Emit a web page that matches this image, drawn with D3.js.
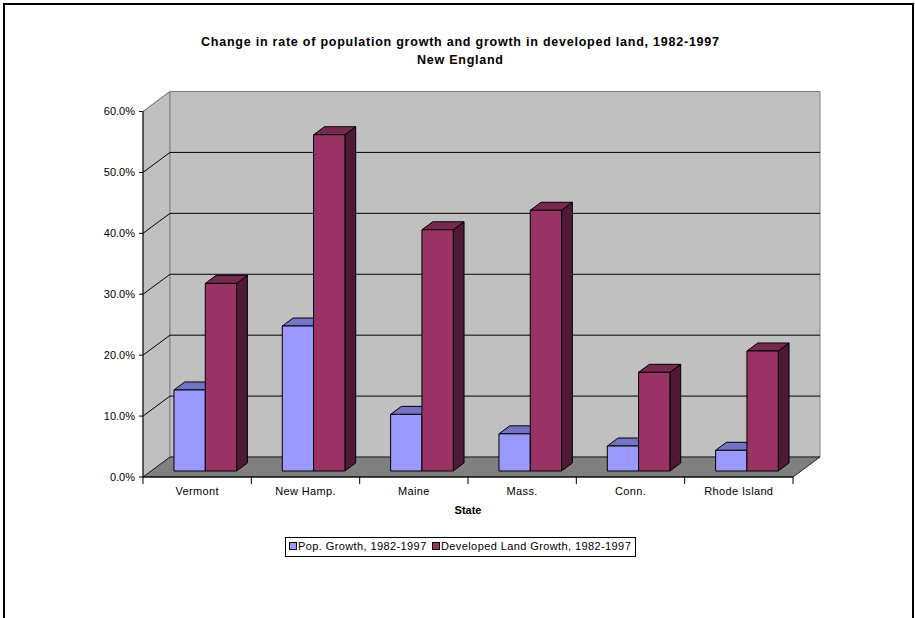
<!DOCTYPE html>
<html>
<head>
<meta charset="utf-8">
<script src="https://cdn.jsdelivr.net/npm/d3@7"></script>
<style>
  body { margin: 0; background: #fff; }
  text { font-family: Arial, "Liberation Sans", sans-serif; }
</style>
</head>
<body>
<div id="chart"></div>
<script>
// data
const states = ["Vermont", "New Hamp.", "Maine", "Mass.", "Conn.", "Rhode Island"];
const series = ["Pop. Growth, 1982-1997", "Developed Land Growth, 1982-1997"];
const popGrowth = [0.133, 0.238, 0.093, 0.061, 0.041, 0.034];
const landGrowth = [0.308, 0.552, 0.396, 0.428, 0.162, 0.197];
const yTicks = [0, 0.1, 0.2, 0.3, 0.4, 0.5, 0.6];

const width = 915, height = 618;

// 3d look: the back wall is shifted by (depthX, depthY) from the front plane
const depthX = 27, depthY = -20;
const barFront = 0.3, barDepth = 0.4; // fraction of the floor depth

const colors = {
  front: ["#9999ff", "#993366"],
  top: ["#7373c6", "#77284f"],
  side: ["#5c5ca0", "#4c1a34"]
};

const svg = d3.select("#chart").append("svg")
  .attr("width", width)
  .attr("height", height);

// outer frame
svg.append("rect")
  .attr("x", 4).attr("y", 4)
  .attr("width", 909).attr("height", 700)
  .attr("fill", "none").attr("stroke", "#000").attr("stroke-width", 2);

const x = d3.scaleBand().domain(states).range([143, 793]);
const xs = d3.scaleBand().domain(series).range([0, x.bandwidth()]).paddingOuter(0.73);
const y = d3.scaleLinear().domain([0, 0.6]).range([477, 111.5]);

const x0 = 143, x1 = 793;
const p = (px, py, d) => [px + depthX * d, py + depthY * d];
const poly = pts => pts.map(q => q.join(",")).join(" ");

// left side wall
svg.append("polygon")
  .attr("points", poly([p(x0, y(0), 0), p(x0, y(0), 1), p(x0, y(0.6), 1), p(x0, y(0.6), 0)]))
  .attr("fill", "#c0c0c0").attr("stroke", "#808080");

// back wall
svg.append("polygon")
  .attr("points", poly([p(x0, y(0), 1), p(x1, y(0), 1), p(x1, y(0.6), 1), p(x0, y(0.6), 1)]))
  .attr("fill", "#c0c0c0").attr("stroke", "#808080");

// floor
svg.append("polygon")
  .attr("points", poly([p(x0, y(0), 0), p(x1, y(0), 0), p(x1, y(0), 1), p(x0, y(0), 1)]))
  .attr("fill", "#808080").attr("stroke", "#000").attr("stroke-width", 0.8);

// gridlines on side and back walls
const grid = svg.append("g").attr("stroke", "#000").attr("fill", "none");
yTicks.filter(t => t > 0 && t < 0.6).forEach(t => {
  grid.append("polyline")
    .attr("points", poly([p(x0, y(t), 0), p(x0, y(t), 1), p(x1, y(t), 1)]));
});
grid.append("line")
  .attr("x1", p(x0, y(0.6), 0)[0]).attr("y1", y(0.6))
  .attr("x2", p(x0, y(0.6), 1)[0]).attr("y2", p(x0, y(0.6), 1)[1])
  .attr("stroke", "#808080");

// y axis
svg.append("line")
  .attr("x1", x0).attr("x2", x0).attr("y1", y(0)).attr("y2", y(0.6))
  .attr("stroke", "#000");
const yAxis = svg.append("g");
yTicks.forEach(t => {
  yAxis.append("line")
    .attr("x1", x0 - 4).attr("x2", x0).attr("y1", y(t)).attr("y2", y(t))
    .attr("stroke", "#000");
  yAxis.append("text")
    .attr("x", x0 - 8).attr("y", y(t)).attr("dy", "0.35em")
    .attr("text-anchor", "end").attr("font-size", 11)
    .text(d3.format(".1%")(t));
});

// x axis
svg.append("line")
  .attr("x1", x0).attr("x2", x1).attr("y1", y(0)).attr("y2", y(0))
  .attr("stroke", "#000");
states.concat([null]).forEach(s => {
  const tx = s ? x(s) : x1;
  svg.append("line")
    .attr("x1", tx).attr("x2", tx).attr("y1", y(0)).attr("y2", y(0) + 7)
    .attr("stroke", "#000");
});
svg.append("g").selectAll("text").data(states).join("text")
  .attr("x", d => x(d) + x.bandwidth() / 2)
  .attr("y", 495)
  .attr("text-anchor", "middle").attr("font-size", 11)
  .attr("letter-spacing", 0.35)
  .text(d => d);

svg.append("text")
  .attr("x", 468).attr("y", 514)
  .attr("text-anchor", "middle").attr("font-size", 11).attr("font-weight", "bold")
  .text("State");

// bars
const rows = states.map((s, i) => ({ state: s, values: [popGrowth[i], landGrowth[i]] }));
const bars = svg.append("g").attr("stroke", "#000").attr("stroke-width", 1).attr("stroke-linejoin", "round");
rows.forEach(r => {
  r.values.forEach((v, k) => {
    const bx = x(r.state) + xs(series[k]);
    const bw = xs.bandwidth();
    const [fx, fy0] = p(bx, y(0), barFront);
    const fy1 = p(bx, y(v), barFront)[1];
    const ddx = depthX * barDepth, ddy = depthY * barDepth;
    const g = bars.append("g");
    g.append("polygon")
      .attr("points", poly([[fx + bw, fy0], [fx + bw + ddx, fy0 + ddy], [fx + bw + ddx, fy1 + ddy], [fx + bw, fy1]]))
      .attr("fill", colors.side[k]);
    g.append("polygon")
      .attr("points", poly([[fx, fy1], [fx + bw, fy1], [fx + bw + ddx, fy1 + ddy], [fx + ddx, fy1 + ddy]]))
      .attr("fill", colors.top[k]);
    g.append("rect")
      .attr("x", fx).attr("y", fy1)
      .attr("width", bw).attr("height", fy0 - fy1)
      .attr("fill", colors.front[k]);
  });
});

// title
svg.append("text")
  .attr("x", 460).attr("y", 46)
  .attr("text-anchor", "middle").attr("font-size", 12.5).attr("font-weight", "bold")
  .attr("textLength", 518).attr("lengthAdjust", "spacing")
  .text("Change in rate of population growth and growth in developed land, 1982-1997");
svg.append("text")
  .attr("x", 460).attr("y", 64)
  .attr("text-anchor", "middle").attr("font-size", 12.5).attr("font-weight", "bold")
  .attr("textLength", 86).attr("lengthAdjust", "spacing")
  .text("New England");

// legend
const legend = svg.append("g");
legend.append("rect")
  .attr("x", 285.5).attr("y", 537.5).attr("width", 350).attr("height", 19)
  .attr("fill", "#fff").attr("stroke", "#000");
const legendX = [289, 432];
series.forEach((s, k) => {
  legend.append("rect")
    .attr("x", legendX[k] + 0.5).attr("y", 542.5).attr("width", 7).attr("height", 7)
    .attr("fill", colors.front[k]).attr("stroke", "#000");
  legend.append("text")
    .attr("x", legendX[k] + 9).attr("y", 550)
    .attr("font-size", 11).attr("letter-spacing", 0.4)
    .text(s);
});
</script>
</body>
</html>
